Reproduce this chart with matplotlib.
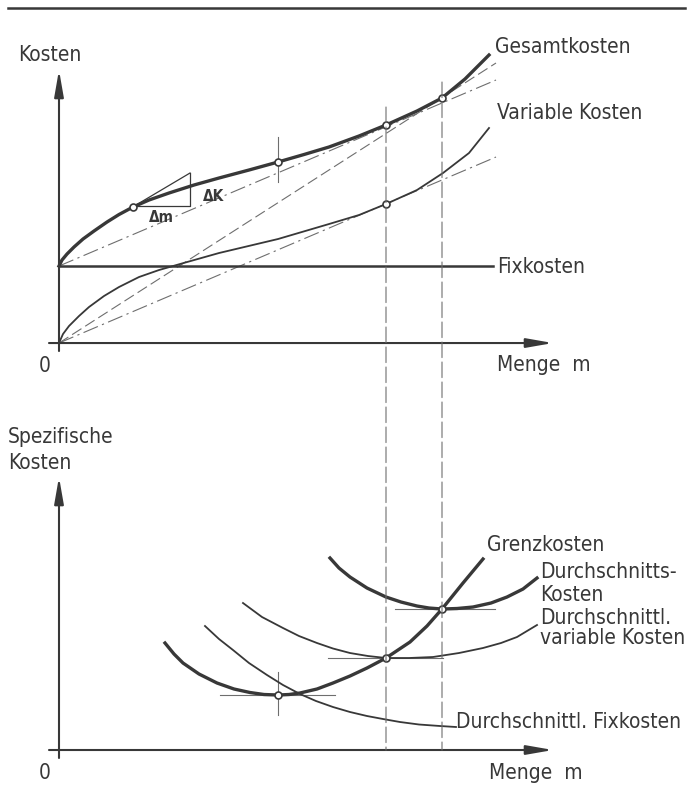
# Kostenverläufe: Gesamtkosten oben, spezifische Kosten unten
import matplotlib
matplotlib.use('Agg')
import matplotlib.pyplot as plt
from matplotlib.patches import ConnectionPatch, ArrowStyle

plt.rcParams['font.family'] = ['DejaVu Sans']
plt.rcParams['font.stretch'] = 'condensed'

FARBE = '#383838'
GRAU = '#6e6e6e'
SCHRIFT = 15

# Obere Grafik: Kosten über der Menge m
m_gesamt = [0, 0.3, 0.8, 1.5, 2.4, 3.5, 4.8, 6.0, 7.4, 9.0, 11.0, 13.5, 16.0, 19.0, 21.9,
            24.5, 27.0, 30.0, 32.7, 35.8, 38.3, 40.6, 43.0]
k_gesamt = [7.7, 8.3, 8.9, 9.6, 10.4, 11.2, 12.1, 12.85, 13.6, 14.3, 15.0, 15.8, 16.5, 17.3, 18.1,
            18.85, 19.6, 20.7, 21.8, 23.2, 24.5, 26.4, 28.8]
m_variabel = [0, 0.4, 1.0, 2.0, 3.0, 4.5, 6.0, 8.0, 10.0, 12.1, 16.0, 21.9, 27.0, 30.0, 32.7,
              35.8, 38.4, 41.0, 43.0]
k_variabel = [0, 0.9, 1.7, 2.7, 3.6, 4.7, 5.6, 6.6, 7.3, 7.9, 9.0, 10.4, 11.9, 12.8, 13.9,
              15.3, 17.0, 19.0, 21.5]
fixkosten = 7.7
m_fix_ende = 43.4

# Markierte Punkte oben
m_punkte_gesamt = [7.4, 21.9, 32.7, 38.3]
k_punkte_gesamt = [13.6, 18.1, 21.8, 24.5]
m_punkte_variabel = [32.7]
k_punkte_variabel = [13.9]

# Hilfsgeraden oben (Anfang, Ende)
m_strahl = [0, 43.7]
k_strahl_gesamt = [0, 28.0]
k_tangente_fix = [7.7, 26.3]
k_strahl_variabel = [0, 18.6]
m_tangente = [7.2, 13.1]
k_tangente = [13.5, 17.0]

# Untere Grafik: spezifische Kosten
m_grenz = [10.6, 11.5, 12.4, 14.0, 15.8, 17.5, 19.1, 20.5, 21.9, 23.0, 24.1, 25.8, 27.4, 29.1,
           30.8, 32.7, 35.1, 36.8, 38.3, 40.4, 42.4]
k_grenz = [10.7, 9.6, 8.7, 7.6, 6.7, 6.1, 5.75, 5.55, 5.5, 5.55, 5.7, 6.1, 6.7, 7.4,
           8.2, 9.2, 10.8, 12.4, 14.1, 16.7, 19.1]
m_dk = [27.1, 28.0, 29.1, 30.8, 32.7, 34.2, 35.8, 37.0, 38.3, 39.8, 41.4, 43.2, 44.8, 46.4, 47.8]
k_dk = [19.2, 18.2, 17.3, 16.2, 15.3, 14.8, 14.4, 14.2, 14.1, 14.15, 14.3, 14.7, 15.3, 16.1, 17.2]
m_dvk = [18.4, 20.3, 22.4, 24.0, 25.8, 27.4, 29.1, 30.9, 32.7, 35.0, 37.4, 40.0, 42.4, 44.2, 45.8, 47.8]
k_dvk = [14.7, 13.3, 12.2, 11.4, 10.7, 10.15, 9.7, 9.4, 9.2, 9.2, 9.3, 9.7, 10.2, 10.7, 11.3, 12.5]
m_dfk = [14.6, 16.0, 17.4, 19.0, 20.8, 22.4, 24.1, 25.7, 27.4, 29.1, 30.8, 32.4, 34.1, 36.0, 38.1, 39.7]
k_dfk = [12.4, 11.1, 10.0, 8.7, 7.5, 6.5, 5.6, 4.9, 4.3, 3.8, 3.4, 3.1, 2.8, 2.55, 2.4, 2.3]

m_punkte_unten = [21.9, 32.7, 38.3]
k_punkte_unten = [5.5, 9.2, 14.1]

# Mengen der senkrechten Linien (Betriebsminimum, Betriebsoptimum)
m_minimum = [32.7, 38.3]
k_minimum_oben = [23.6, 26.1]

pfeil = ArrowStyle('-|>', head_length=2.0, head_width=0.35)


def achsen(ax, y_oben):
    # Koordinatenachsen mit Pfeilen
    ax.annotate('', xy=(0, y_oben), xytext=(0, -0.8),
                arrowprops=dict(arrowstyle=pfeil, mutation_scale=8, lw=1.5,
                                color=FARBE, shrinkA=0, shrinkB=0))
    ax.annotate('', xy=(49.4, 0), xytext=(-1.0, 0),
                arrowprops=dict(arrowstyle=pfeil, mutation_scale=8, lw=1.5,
                                color=FARBE, shrinkA=0, shrinkB=0))
    ax.text(-1.4, -2.3, '0', fontsize=SCHRIFT, color=FARBE, ha='center', va='center')
    ax.set_xlim(-5.9, 63.0)
    ax.axis('off')


fig = plt.figure(figsize=(6.89, 7.85), dpi=100)
ax1 = fig.add_axes([0, 0.4904, 1, 0.5096])
ax2 = fig.add_axes([0, 0, 1, 0.4904])
ax1.set_ylim(-5.7, 34.3)
ax2.set_ylim(-3.5, 35.0)

# Trennlinie oben
ax1.plot([-5.1, 62.6], [33.5, 33.5], color=FARBE, lw=1.8)

achsen(ax1, 27.3)
ax1.text(-4.1, 28.8, 'Kosten', fontsize=SCHRIFT, color=FARBE, va='center')
ax1.text(43.8, -2.2, 'Menge  m', fontsize=SCHRIFT, color=FARBE, va='center')

# Hilfslinien
ax1.plot(m_strahl, k_strahl_gesamt, color=GRAU, lw=0.8, ls=(0, (10, 4)))
ax1.plot(m_strahl, k_tangente_fix, color=GRAU, lw=0.8, ls=(0, (14, 4, 2, 4)))
ax1.plot(m_strahl, k_strahl_variabel, color=GRAU, lw=0.8, ls=(0, (14, 4, 2, 4)))
ax1.plot(m_tangente, k_tangente, color=FARBE, lw=0.9)
ax1.plot([7.8, m_tangente[1], m_tangente[1]], [k_tangente[0] + 0.2, k_tangente[0] + 0.2, k_tangente[1]],
         color=FARBE, lw=0.9)
ax1.text(14.4, 14.7, 'ΔK', fontsize=11, color=FARBE, va='center', fontweight='bold')
ax1.text(9.0, 12.6, 'Δm', fontsize=11, color=FARBE, va='center', fontweight='bold')
ax1.plot([21.9, 21.9], [16.1, 20.6], color=GRAU, lw=0.8)

# Kostenkurven
ax1.plot([0, m_fix_ende], [fixkosten, fixkosten], color=FARBE, lw=1.8)
ax1.plot(m_variabel, k_variabel, color=FARBE, lw=1.3)
ax1.plot(m_gesamt, k_gesamt, color=FARBE, lw=2.4)
ax1.plot(m_punkte_gesamt, k_punkte_gesamt, 'o', ms=5, mfc='white', mec=FARBE, mew=1.2)
ax1.plot(m_punkte_variabel, k_punkte_variabel, 'o', ms=5, mfc='white', mec=FARBE, mew=1.2)

ax1.text(43.6, 29.6, 'Gesamtkosten', fontsize=SCHRIFT, color=FARBE, va='center')
ax1.text(43.8, 23.0, 'Variable Kosten', fontsize=SCHRIFT, color=FARBE, va='center')
ax1.text(43.8, 7.6, 'Fixkosten', fontsize=SCHRIFT, color=FARBE, va='center')

# Untere Grafik
achsen(ax2, 27.3)
ax2.text(-5.1, 31.3, 'Spezifische', fontsize=SCHRIFT, color=FARBE, va='center')
ax2.text(-5.1, 28.7, 'Kosten', fontsize=SCHRIFT, color=FARBE, va='center')
ax2.text(43.0, -2.3, 'Menge  m', fontsize=SCHRIFT, color=FARBE, va='center')

# waagerechte Tangenten in den Minima
ax2.plot([16.1, 27.6], [5.5, 5.5], color=GRAU, lw=0.8)
ax2.plot([21.9, 21.9], [3.5, 7.8], color=GRAU, lw=0.8)
ax2.plot([26.9, 38.4], [9.2, 9.2], color=GRAU, lw=0.8)
ax2.plot([33.6, 43.6], [14.1, 14.1], color=GRAU, lw=0.8)

ax2.plot(m_dfk, k_dfk, color=FARBE, lw=1.3)
ax2.plot(m_dvk, k_dvk, color=FARBE, lw=1.3)
ax2.plot(m_dk, k_dk, color=FARBE, lw=2.4)
ax2.plot(m_grenz, k_grenz, color=FARBE, lw=2.4)
ax2.plot(m_punkte_unten, k_punkte_unten, 'o', ms=5, mfc='white', mec=FARBE, mew=1.2)

ax2.text(42.8, 20.5, 'Grenzkosten', fontsize=SCHRIFT, color=FARBE, va='center')
ax2.text(48.1, 17.8, 'Durchschnitts-', fontsize=SCHRIFT, color=FARBE, va='center')
ax2.text(48.1, 15.5, 'Kosten', fontsize=SCHRIFT, color=FARBE, va='center')
ax2.text(48.1, 13.2, 'Durchschnittl.', fontsize=SCHRIFT, color=FARBE, va='center')
ax2.text(48.1, 11.2, 'variable Kosten', fontsize=SCHRIFT, color=FARBE, va='center')
ax2.text(39.7, 2.8, 'Durchschnittl. Fixkosten', fontsize=SCHRIFT, color=FARBE, va='center')

# senkrechte Linien über beide Grafiken
for m, k in zip(m_minimum, k_minimum_oben):
    linie = ConnectionPatch(xyA=(m, k), coordsA=ax1.transData, xyB=(m, 0), coordsB=ax2.transData,
                            color=GRAU, lw=0.8, ls=(0, (14, 4)))
    fig.add_artist(linie)

fig.savefig('out.png', dpi=100, facecolor='white')
